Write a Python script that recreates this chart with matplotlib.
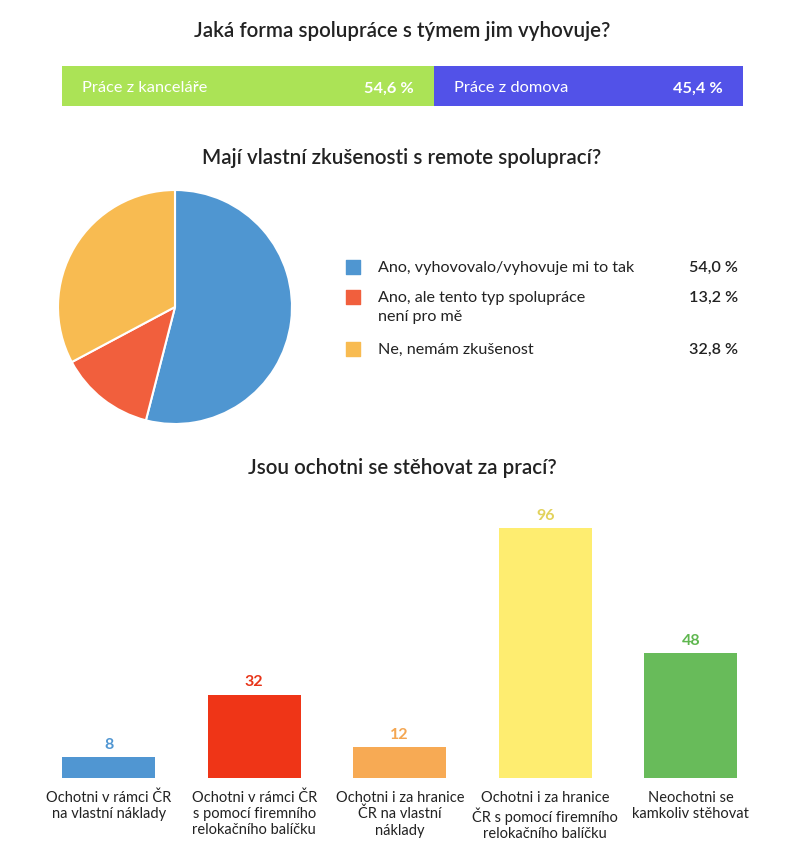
import numpy as np
import matplotlib.pyplot as plt

plt.rcParams['font.family'] = ['Lato', 'DejaVu Sans']

# data
work_labels = ['Práce z kanceláře', 'Práce z domova']
work_values = [54.6, 45.4]
work_colors = ['#abe356', '#5252e8']

exp_labels = ['Ano, vyhovovalo/vyhovuje mi to tak',
              'Ano, ale tento typ spolupráce\nnení pro mě',
              'Ne, nemám zkušenost']
exp_values = [54.0, 13.2, 32.8]
exp_colors = ['#4f96d1', '#f15f3d', '#f8bb51']

move_labels = ['Ochotni v rámci ČR\nna vlastní náklady',
               'Ochotni v rámci ČR\ns pomocí firemního\nrelokačního balíčku',
               'Ochotni i za hranice\nČR na vlastní\nnáklady',
               'Ochotni i za hranice\nČR s pomocí firemního\nrelokačního balíčku',
               'Neochotni se\nkamkoliv stěhovat']
move_values = [8, 32, 12, 96, 48]
move_colors = ['#5096d2', '#ef3517', '#f7aa54', '#feed70', '#68bb5a']
move_text_colors = ['#5096d2', '#e83418', '#f4a651', '#e2d25c', '#5fb74f']

W, H = 800, 851
fig = plt.figure(figsize=(W / 100, H / 100), dpi=100)

def px_axes(x0, y0, x1, y1):
    return fig.add_axes([x0 / W, 1 - y1 / H, (x1 - x0) / W, (y1 - y0) / H])

title_kw = dict(ha='center', va='center', fontsize=14.8, color='#222222', fontweight='semibold')
fig.text(402 / W, 1 - 31 / H, 'Jaká forma spolupráce s týmem jim vyhovuje?', **title_kw)
fig.text(402 / W, 1 - 158 / H, 'Mají vlastní zkušenosti s remote spoluprací?', **title_kw)
fig.text(402 / W, 1 - 468 / H, 'Jsou ochotni se stěhovat za prací?', **title_kw)

# stacked bar
ax1 = px_axes(62, 66, 743, 106)
left = 0
for lab, v, c in zip(work_labels, work_values, work_colors):
    ax1.barh(0, v, left=left, height=1, color=c)
    ax1.text(left + 3, -0.06, lab, ha='left', va='center', color='white', fontsize=11.8)
    ax1.text(left + v - 3, -0.06, f'{v:.1f} %'.replace('.', ','), ha='right', va='center',
             color='white', fontsize=11.8, fontweight='bold')
    left += v
ax1.set_xlim(0, 100)
ax1.set_ylim(-0.5, 0.5)
ax1.axis('off')

# pie
ax2 = px_axes(58, 190, 292, 424)
ax2.pie(exp_values, colors=exp_colors, startangle=90, counterclock=False, radius=1,
        wedgeprops=dict(edgecolor='white', linewidth=1.5))
ax2.set_xlim(-1, 1)
ax2.set_ylim(-1, 1)
ax2.set_aspect('equal')

# legend
axl = px_axes(330, 240, 760, 380)
axl.set_xlim(330, 760)
axl.set_ylim(380, 240)
axl.axis('off')
rows_y = [267, 297, 349]
for y, lab, v, c in zip(rows_y, exp_labels, exp_values, exp_colors):
    axl.scatter([353], [y], marker='s', s=110, color=c)
    axl.text(378, y - 6, lab, ha='left', va='top', fontsize=11.6, color='#222222', linespacing=1.5)
    axl.text(738, y + 1, f'{v:.1f} %'.replace('.', ','), ha='right', va='center',
             fontsize=11.6, color='#222222', fontweight='semibold')

# bars
ax3 = px_axes(36, 517.6, 763.5, 778)
x = np.arange(len(move_values))
ax3.bar(x, move_values, width=0.64, color=move_colors)
for xi, v, tc in zip(x, move_values, move_text_colors):
    ax3.text(xi, v + 2, str(v), ha='center', va='bottom', color=tc,
             fontsize=11.5, fontweight='bold')
ax3.set_xlim(-0.5, 4.5)
ax3.set_ylim(0, 100)
ax3.set_xticks(x)
ax3.set_xticklabels(move_labels, fontsize=10.5, color='#222222', linespacing=1.2)
ax3.tick_params(axis='x', length=0, pad=9)
ax3.set_yticks([])
for s in ax3.spines.values():
    s.set_visible(False)

fig.savefig('out.png', dpi=100)
